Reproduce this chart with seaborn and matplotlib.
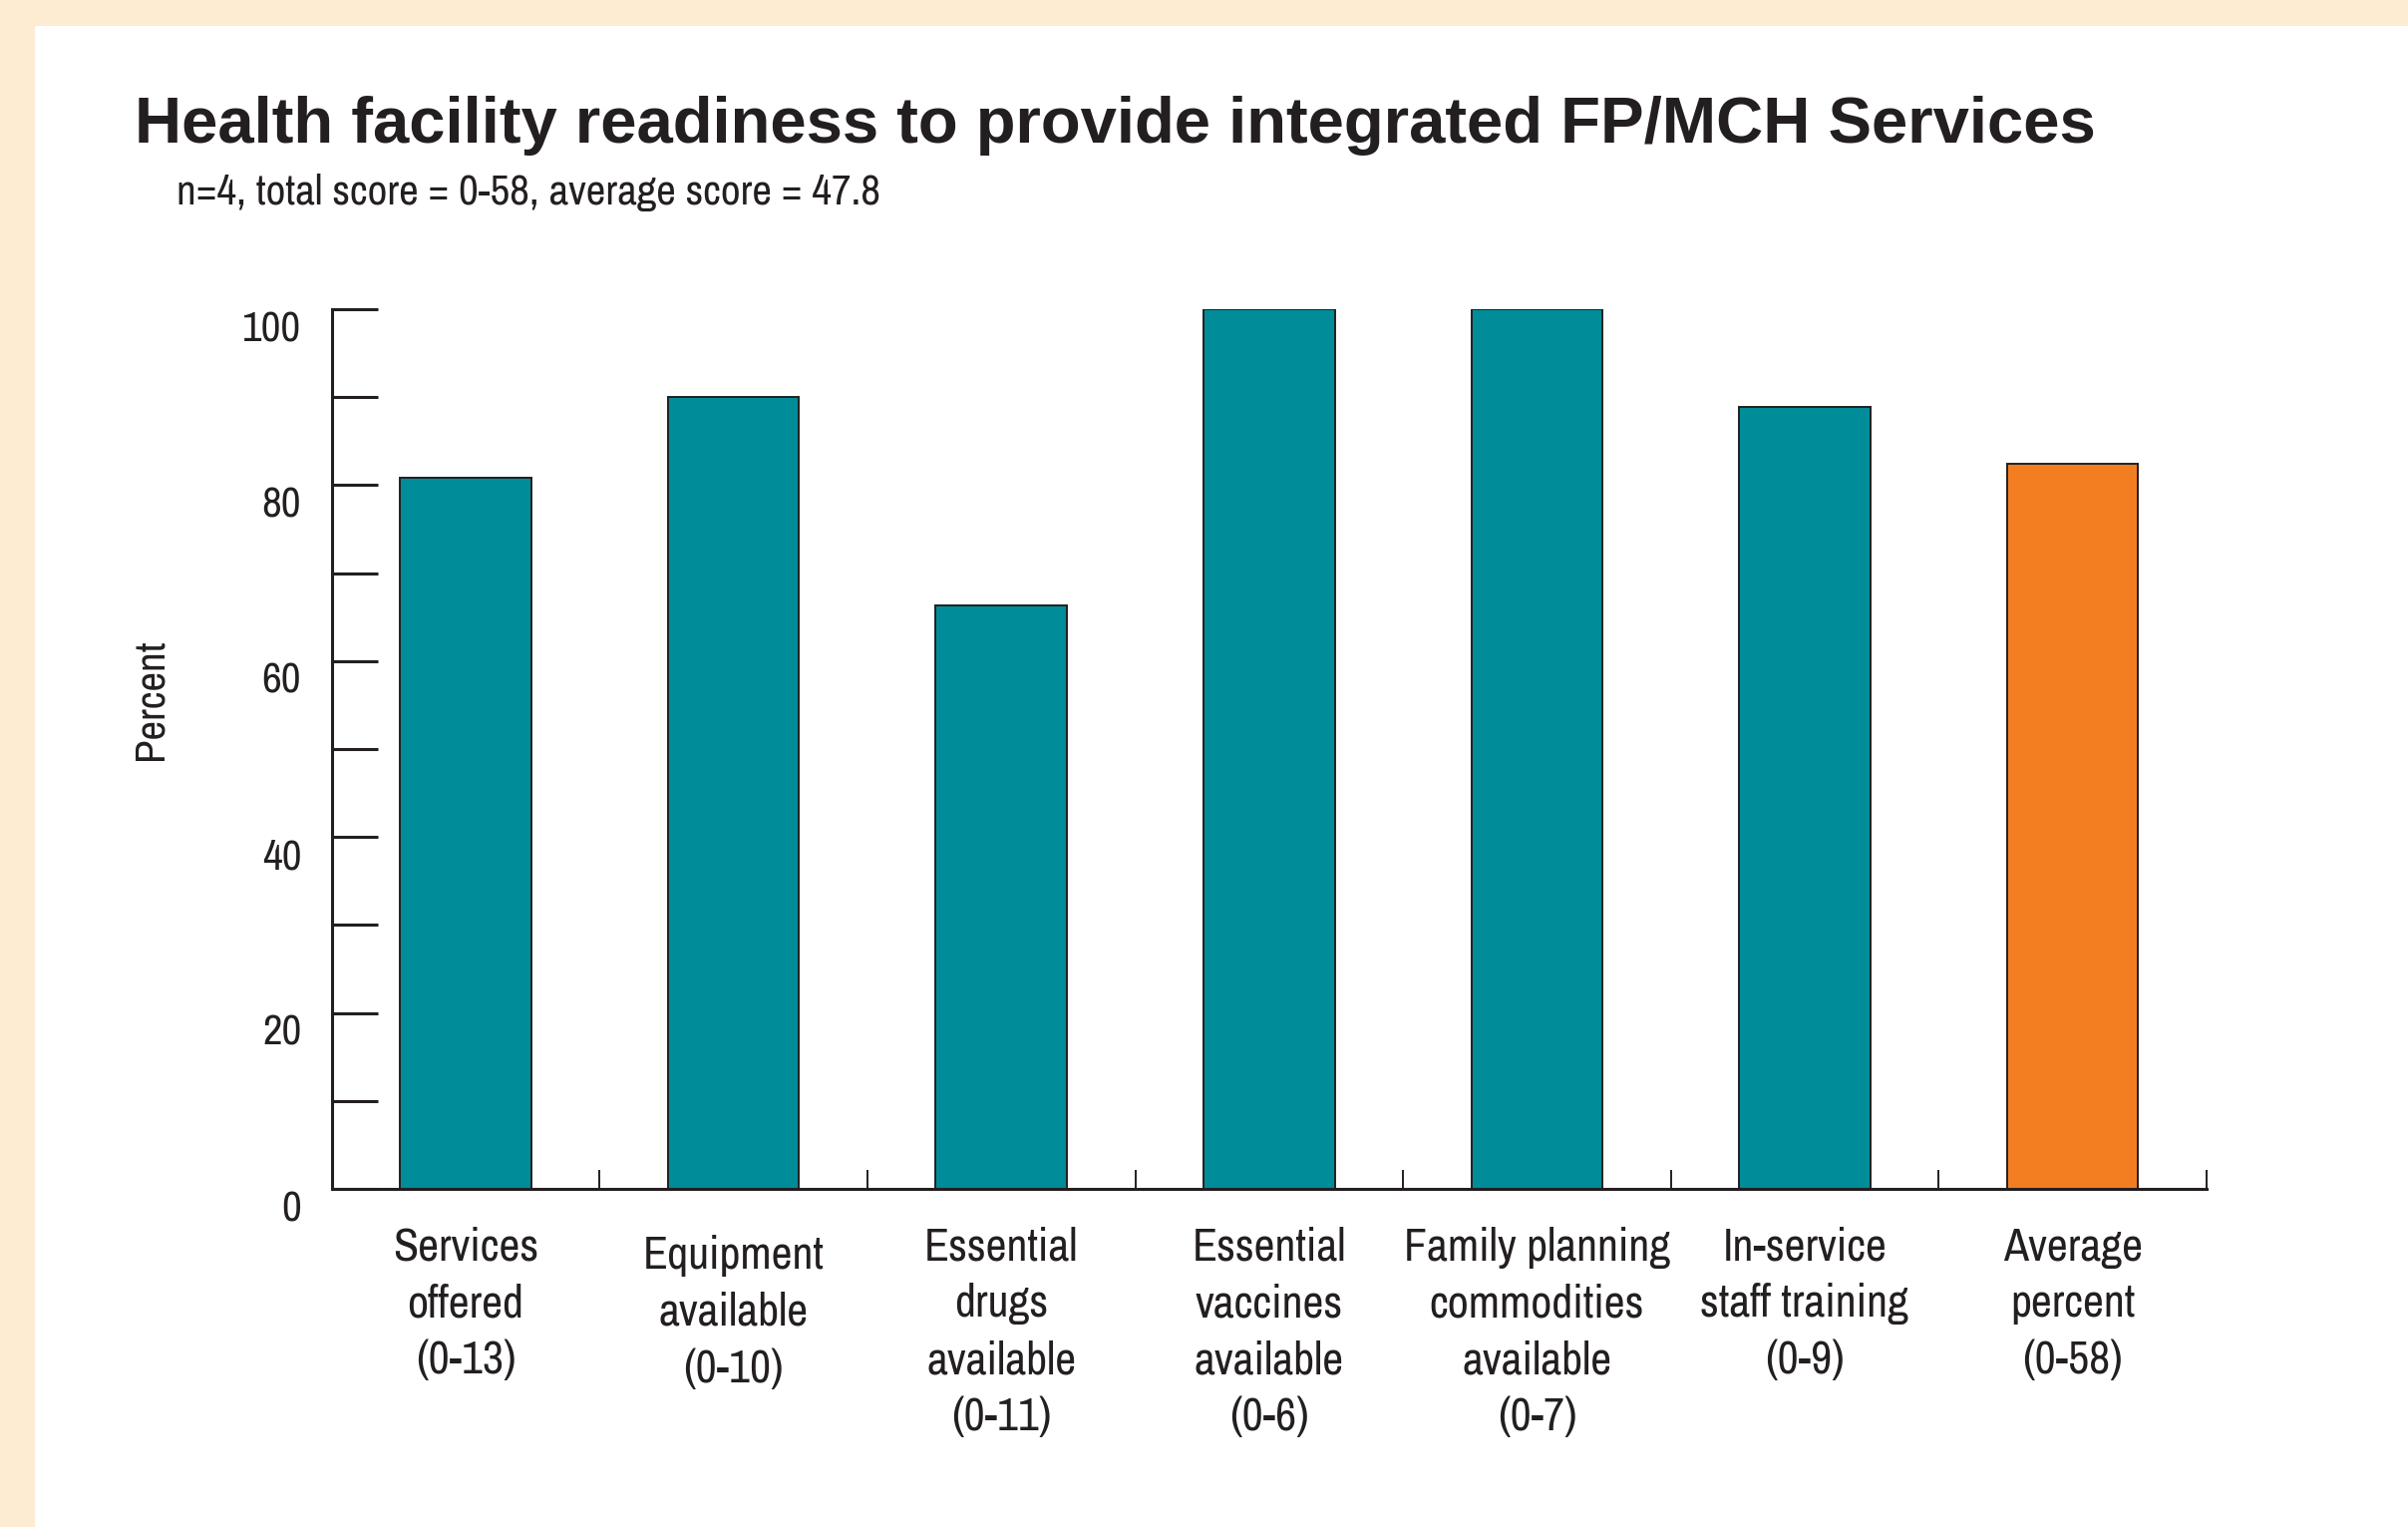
import numpy as np
import pandas as pd
import matplotlib
matplotlib.use("Agg")
import matplotlib.pyplot as plt
import matplotlib.transforms as mtransforms
from matplotlib.patches import Rectangle
import seaborn as sns

# data
categories = ["Services\noffered\n(0-13)",
              "Equipment\navailable\n(0-10)",
              "Essential\ndrugs\navailable\n(0-11)",
              "Essential\nvaccines\navailable\n(0-6)",
              "Family planning\ncommodities\navailable\n(0-7)",
              "In-service\nstaff training\n(0-9)",
              "Average\npercent\n(0-58)"]
percent = [80.8, 90.0, 66.3, 100.0, 100.0, 88.9, 82.4]
bar_colors = ["#008C98"] * 6 + ["#F37E22"]
y_ticks = [0, 20, 40, 60, 80, 100]

title = "Health facility readiness to provide integrated FP/MCH Services"
subtitle = "n=4, total score = 0-58, average score = 47.8"

sns.set_style("white")
# condensed face for everything but the title
plt.rcParams["font.family"] = ["Archivo Narrow", "Liberation Sans", "DejaVu Sans"]
ink = "#231F20"

df = pd.DataFrame({"category": categories, "percent": percent})

fig = plt.figure(figsize=(24.15, 15.31), dpi=100)
fig.patch.set_facecolor("#FDEBD2")
# white panel inside the beige frame
fig.add_artist(Rectangle((0.0145, 0), 1, 0.983, transform=fig.transFigure,
                         facecolor="white", edgecolor="none", zorder=0))

ax = fig.add_axes([0.1378, 0.2214, 0.7785, 0.5761])
ax.set_facecolor("none")

sns.barplot(data=df, x="category", y="percent", hue="category",
            palette=bar_colors, legend=False, width=0.49,
            edgecolor=ink, linewidth=1.4, saturation=1, ax=ax)

ax.set_xlim(-0.5, len(categories) - 0.5)
ax.set_ylim(0, 100)

# y axis: inward ticks every 10, labels every 20
ax.set_yticks(y_ticks)
ax.set_yticks(np.arange(10, 100, 20), minor=True)
ax.tick_params(axis="y", which="both", left=True, direction="in", length=33,
               width=2.2, color=ink, labelsize=31, labelcolor=ink, pad=22)
offset = mtransforms.ScaledTranslation(0, -12 / 72, fig.dpi_scale_trans)
for lab in ax.get_yticklabels():
    lab.set_transform(lab.get_transform() + offset)

# x axis: short ticks between categories
ax.set_xticks(np.arange(0.5, len(categories), 1.0), minor=True)
ax.tick_params(axis="x", which="major", length=0, labelsize=33,
               labelcolor=ink, pad=27)
ax.tick_params(axis="x", which="minor", bottom=True, direction="in",
               length=14, width=1.4, color=ink)
for lab in ax.get_xticklabels():
    lab.set_linespacing(1.44)
# the second label sits a little lower in the original
lab = ax.get_xticklabels()[1]
lab.set_transform(lab.get_transform() +
                  mtransforms.ScaledTranslation(0, -6 / 72, fig.dpi_scale_trans))

ax.set_xlabel("")
ax.set_ylabel("Percent", fontsize=31, color=ink)
ax.yaxis.set_label_coords(-0.087, 0.557)

sns.despine(ax=ax)
for side in ["left", "bottom"]:
    ax.spines[side].set_linewidth(2.2)
    ax.spines[side].set_color(ink)

fig.text(0.0561, 0.9066, title, fontsize=47, fontweight="bold", color=ink,
         family=["Liberation Sans", "DejaVu Sans"], va="baseline")
fig.text(0.0733, 0.874, subtitle, fontsize=31, color=ink, va="center")

fig.savefig("out.png", dpi=100, facecolor=fig.get_facecolor())
